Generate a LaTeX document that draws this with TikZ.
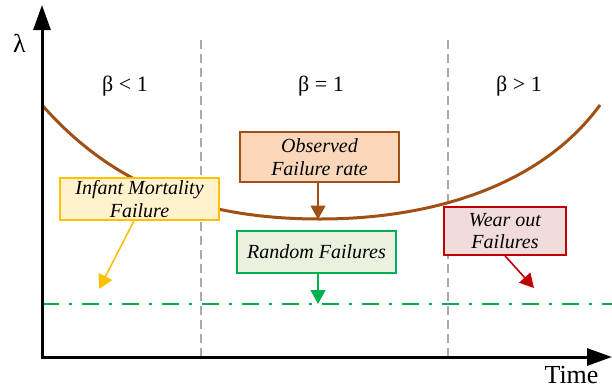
\documentclass[tikz,border=0pt]{standalone}
\usepackage{fontspec}
\setmainfont{Liberation Serif}
\usetikzlibrary{arrows.meta}

\definecolor{curvebrown}{RGB}{160,80,20}
\definecolor{obsfill}{RGB}{250,215,186}
\definecolor{inffill}{RGB}{255,242,204}
\definecolor{infdraw}{RGB}{255,192,0}
\definecolor{rndfill}{RGB}{235,241,222}
\definecolor{rnddraw}{RGB}{0,176,80}
\definecolor{wearfill}{RGB}{242,220,219}
\definecolor{weardraw}{RGB}{192,0,0}
\definecolor{guidegray}{RGB}{170,170,170}

\tikzset{
  axisline/.style={line width=3pt, -{Triangle[length=25pt, width=17pt]}},
  guide/.style={guidegray, line width=1.6pt, dash pattern=on 9pt off 5pt},
  baseline/.style={rnddraw, line width=2.5pt, dash pattern=on 17pt off 10pt on 3pt off 10pt},
  bathtub/.style={curvebrown, line width=3pt},
  label/.style={inner sep=0pt, anchor=base, font=\fontsize{22}{26}\selectfont},
  biglabel/.style={inner sep=0pt, anchor=base, font=\fontsize{26}{30}\selectfont},
  callout/.style={line width=1.6pt, inner sep=0pt, align=center,
    font=\fontsize{20}{22.5}\selectfont\itshape},
  pointer/.style={line width=1.6pt, -{Triangle[length=14pt, width=15pt]}}
}

\begin{document}
\begin{tikzpicture}[x=1pt, y=-1pt]
  \useasboundingbox (0,0) rectangle (612,389);

  % region separators
  \coordinate (g1top) at (201,40);
  \coordinate (g1bot) at (201,357);
  \coordinate (g2top) at (448,40);
  \coordinate (g2bot) at (448,357);
  \draw[guide] (g1top) -- (g1bot);
  \draw[guide] (g2top) -- (g2bot);

  % constant failure-rate level
  \coordinate (lvlL) at (42,304);
  \coordinate (lvlR) at (612,304);
  \draw[baseline] (lvlL) -- (lvlR);

  % bathtub curve
  \coordinate (cstart) at (42,105);
  \coordinate (cmin) at (320,219);
  \coordinate (cend) at (600,105);
  \draw[bathtub] (cstart) .. controls (110,182) and (195,219) .. (cmin)
                          .. controls (430,219) and (540,187) .. (cend);

  % axes
  \coordinate (origin) at (42,357);
  \coordinate (ytip) at (42,5);
  \coordinate (xtip) at (612,357);
  \draw[axisline] (origin) -- (ytip);
  \draw[axisline] ([xshift=-1.5pt]origin) -- (xtip);

  \node[biglabel] (lam) at (19.5,52) {λ};
  \node[biglabel] (time) at (571.5,383) {Time};

  % shape parameter regions
  \node[label] (b1) at (125,91) {β < 1};
  \node[label] (b2) at (321,91) {β = 1};
  \node[label] (b3) at (519,91) {β > 1};

  % callouts
  \node[callout, draw=curvebrown, fill=obsfill, minimum width=159pt, minimum height=50pt]
    (obs) at (319.5,157) {Observed\\Failure rate};
  \node[callout, draw=infdraw, fill=inffill, minimum width=159pt, minimum height=42pt]
    (inf) at (139.5,199) {Infant Mortality\\Failure};
  \node[callout, draw=rnddraw, fill=rndfill, minimum width=159pt, minimum height=42pt]
    (rnd) at (316.5,252) {Random Failures};
  \node[callout, draw=weardraw, fill=wearfill, minimum width=122pt, minimum height=48pt]
    (wear) at (505,231) {Wear out\\Failures};

  % pointers
  \coordinate (obstip) at (318,219.5);
  \coordinate (inftip) at (99,289);
  \coordinate (rndtip) at (318,304);
  \coordinate (weartip) at (534,288);
  \draw[pointer, curvebrown] ([xshift=-1.5pt]obs.south) -- (obstip);
  \draw[pointer, infdraw] ([xshift=-5.5pt]inf.south) -- (inftip);
  \draw[pointer, rnddraw] ([xshift=1.5pt]rnd.south) -- (rndtip);
  \draw[pointer, weardraw] (wear.south) -- (weartip);
\end{tikzpicture}
\end{document}
